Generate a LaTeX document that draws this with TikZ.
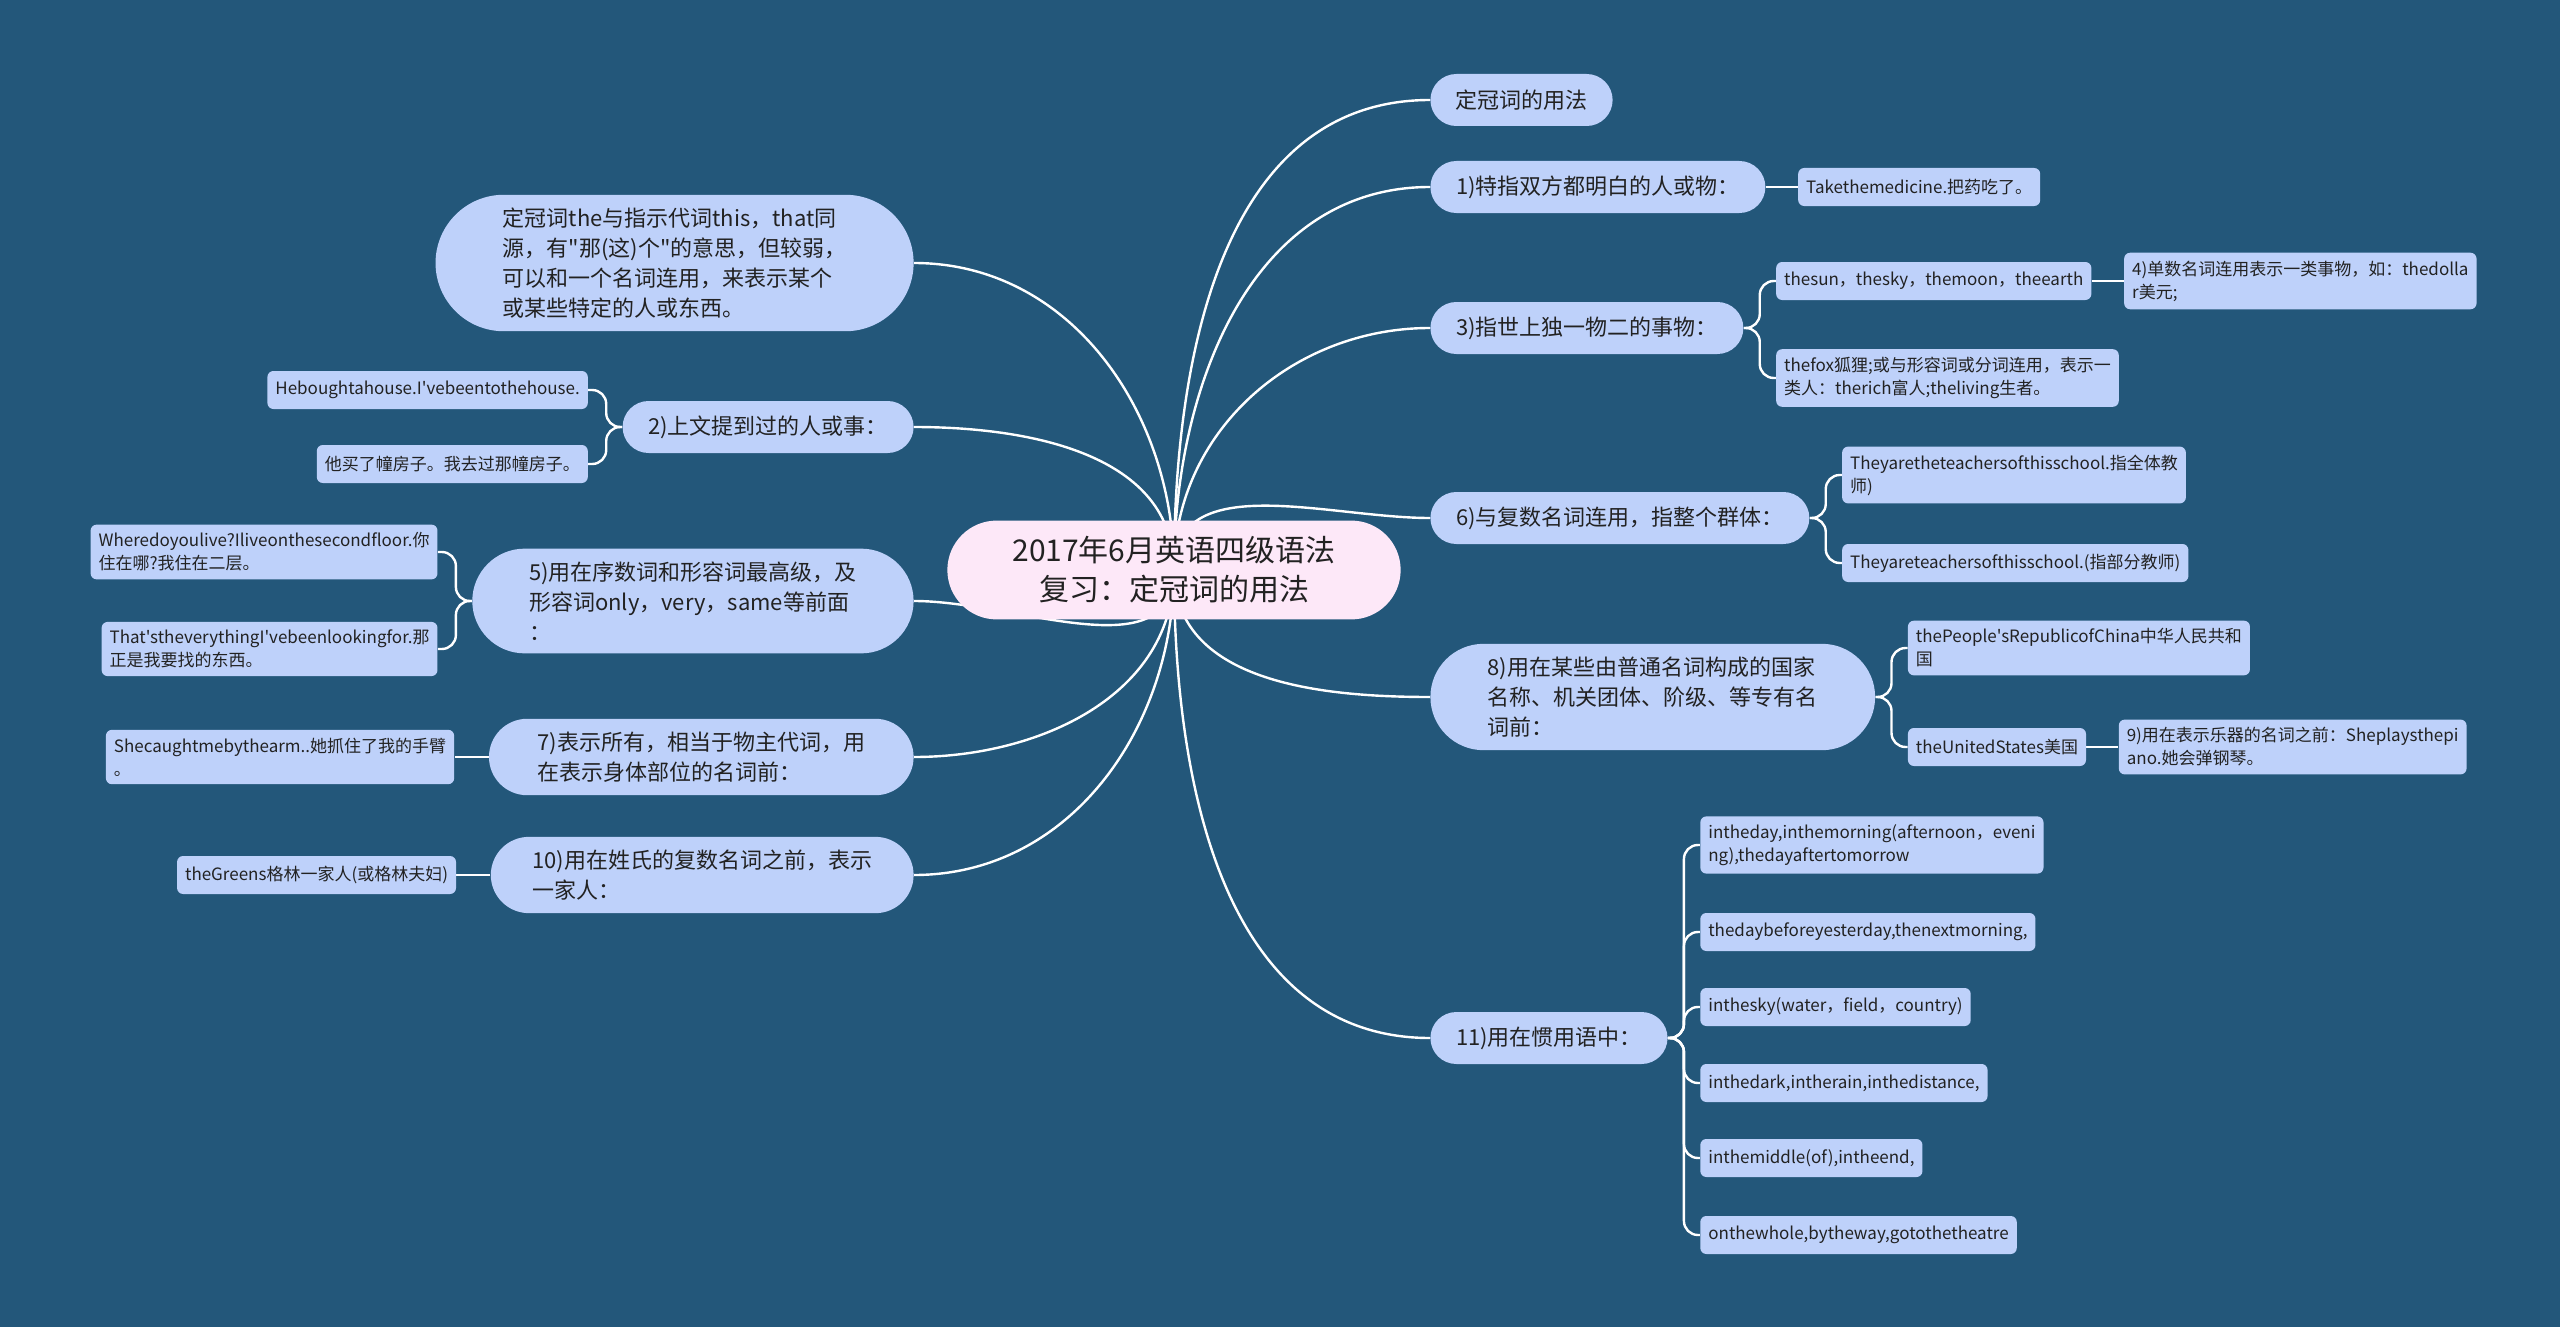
\documentclass[tikz,border=0pt]{standalone}
\usepackage{fontspec}
\setmainfont{Noto Sans CJK SC}[Ligatures=TeXOff]
\usepackage{xcolor}
\usetikzlibrary{positioning, backgrounds, shapes.misc}
\definecolor{mapbg}{HTML}{23577A}
\definecolor{topicfill}{HTML}{BED1FA}
\definecolor{rootfill}{HTML}{FDE8F8}
\definecolor{topictext}{HTML}{222222}

\begin{document}
\begin{tikzpicture}[
      x=0.5pt, y=-0.5pt,
      root/.style={rounded rectangle, fill=rootfill, text=topictext, inner xsep=26pt, inner ysep=8pt, align=center, font=\fontsize{15}{19.5}\selectfont},
      topic/.style={rounded rectangle, fill=topicfill, text=topictext, inner xsep=11.5pt, inner ysep=6.5pt, minimum height=26pt, align=left, font=\fontsize{11}{15}\selectfont},
      bigtopic/.style={topic, inner xsep=19.5pt},
      leaf/.style={rectangle, rounded corners=3pt, fill=topicfill, text=topictext, inner xsep=4pt, inner ysep=4pt, minimum height=19pt, align=left, font=\fontsize{8.5}{11.5}\selectfont},
      link/.style={white, line width=1.2pt},
      brace/.style={white, line width=1.2pt, rounded corners=7pt},
    ]
    \useasboundingbox (0,0) rectangle (2560,1327);

    \node[root] (root) at (1174,570) {2017年6月英语四级语法\\复习：定冠词的用法};

    \node[topic, anchor=west] (t0) at (1430,100) {定冠词的用法};
    \node[topic, anchor=west] (t1) at (1430,187) {1)特指双方都明白的人或物：};
    \node[topic, anchor=west] (t3) at (1430,328) {3)指世上独一物二的事物：};
    \node[topic, anchor=west] (t6) at (1430,518) {6)与复数名词连用，指整个群体：};
    \node[bigtopic, anchor=west] (t8) at (1430,697) {8)用在某些由普通名词构成的国家\\名称、机关团体、阶级、等专有名\\词前：};
    \node[topic, anchor=west] (t11) at (1430,1038) {11)用在惯用语中：};

    \node[bigtopic, anchor=east] (intro) at (914,263) {定冠词the与指示代词this，that同\\源，有"那(这)个"的意思，但较弱，\\可以和一个名词连用，来表示某个\\或某些特定的人或东西。};
    \node[topic, anchor=east] (t2) at (914,427) {2)上文提到过的人或事：};
    \node[bigtopic, anchor=east] (t5) at (914,601) {5)用在序数词和形容词最高级，及\\形容词only，very，same等前面\\：};
    \node[bigtopic, anchor=east] (t7) at (914,757) {7)表示所有，相当于物主代词，用\\在表示身体部位的名词前：};
    \node[bigtopic, anchor=east, inner xsep=16pt] (t10) at (914,875) {10)用在姓氏的复数名词之前，表示\\一家人：};

    \node[leaf, anchor=west, xshift=16pt] (t1a) at (t1.east) {Takethemedicine.把药吃了。};
    \node[leaf, anchor=west, xshift=16pt] (t3a) at (t3.east |- 0,281) {thesun，thesky，themoon，theearth};
    \node[leaf, anchor=west, xshift=16pt] (t4) at (t3a.east) {4)单数名词连用表示一类事物，如：thedolla\\r美元;};
    \node[leaf, anchor=west, xshift=16pt] (t3b) at (t3.east |- 0,378) {thefox狐狸;或与形容词或分词连用，表示一\\类人：therich富人;theliving生者。};
    \node[leaf, anchor=west, xshift=16pt] (t6a) at (t6.east |- 0,475) {Theyaretheteachersofthisschool.指全体教\\师)};
    \node[leaf, anchor=west, xshift=16pt] (t6b) at (t6.east |- 0,563) {Theyareteachersofthisschool.(指部分教师)};
    \node[leaf, anchor=west, xshift=16pt] (t8a) at (t8.east |- 0,648) {thePeople'sRepublicofChina中华人民共和\\国};
    \node[leaf, anchor=west, xshift=16pt] (t8b) at (t8.east |- 0,747) {theUnitedStates美国};
    \node[leaf, anchor=west, xshift=16pt] (t9) at (t8b.east) {9)用在表示乐器的名词之前：Sheplaysthepi\\ano.她会弹钢琴。};
    \node[leaf, anchor=west, xshift=16pt] (t11a) at (t11.east |- 0,845) {intheday,inthemorning(afternoon，eveni\\ng),thedayaftertomorrow};
    \node[leaf, anchor=west, xshift=16pt] (t11b) at (t11.east |- 0,932) {thedaybeforeyesterday,thenextmorning,};
    \node[leaf, anchor=west, xshift=16pt] (t11c) at (t11.east |- 0,1007) {inthesky(water，field，country)};
    \node[leaf, anchor=west, xshift=16pt] (t11d) at (t11.east |- 0,1083) {inthedark,intherain,inthedistance,};
    \node[leaf, anchor=west, xshift=16pt] (t11e) at (t11.east |- 0,1158) {inthemiddle(of),intheend,};
    \node[leaf, anchor=west, xshift=16pt] (t11f) at (t11.east |- 0,1235) {onthewhole,bytheway,gotothetheatre};

    \node[leaf, anchor=east, xshift=-17pt] (t2a) at (t2.west |- 0,390) {Heboughtahouse.I've{}beentothehouse.};
    \node[leaf, anchor=east, xshift=-17pt] (t2b) at (t2.west |- 0,464) {他买了幢房子。我去过那幢房子。};
    \node[leaf, anchor=east, xshift=-17pt] (t5a) at (t5.west |- 0,552) {Wheredoyoulive?Iliveonthesecondfloor.你\\住在哪?我住在二层。};
    \node[leaf, anchor=east, xshift=-17pt] (t5b) at (t5.west |- 0,649) {That'stheverythingI've{}beenlookingfor.那\\正是我要找的东西。};
    \node[leaf, anchor=east, xshift=-17pt] (t7a) at (t7.west) {Shecaughtmebythearm..她抓住了我的手臂\\。};
    \node[leaf, anchor=east, xshift=-17pt] (t10a) at (t10.west) {theGreens格林一家人(或格林夫妇)};

    \begin{scope}[on background layer]
      \fill[mapbg] (0,0) rectangle (2560,1327);
      \draw[link] (root.center) to[out=90, in=180] (t0.west);
      \draw[link] (root.center) to[out=90, in=180] (t1.west);
      \draw[link] (root.center) to[out=90, in=180] (t3.west);
      \draw[link] (root.center) to[out=90, in=180] (t6.west);
      \draw[link] (root.center) to[out=-90, in=180] (t8.west);
      \draw[link] (root.center) to[out=-90, in=180] (t11.west);
      \draw[link] (root.center) to[out=90, in=0] (intro.east);
      \draw[link] (root.center) to[out=90, in=0] (t2.east);
      \draw[link] (root.center) to[out=-90, in=0] (t5.east);
      \draw[link] (root.center) to[out=-90, in=0] (t7.east);
      \draw[link] (root.center) to[out=-90, in=0] (t10.east);

      \draw[link] (t1.east) -- (t1a.west);
      \draw[brace] (t3.east) -- ++(8pt,0) |- (t3a.west);
      \draw[brace] (t3.east) -- ++(8pt,0) |- (t3b.west);
      \draw[link] (t3a.east) -- (t4.west);
      \draw[brace] (t6.east) -- ++(8pt,0) |- (t6a.west);
      \draw[brace] (t6.east) -- ++(8pt,0) |- (t6b.west);
      \draw[brace] (t8.east) -- ++(8pt,0) |- (t8a.west);
      \draw[brace] (t8.east) -- ++(8pt,0) |- (t8b.west);
      \draw[link] (t8b.east) -- (t9.west);
      \draw[brace] (t11.east) -- ++(8pt,0) |- (t11a.west);
      \draw[brace] (t11.east) -- ++(8pt,0) |- (t11b.west);
      \draw[brace] (t11.east) -- ++(8pt,0) |- (t11c.west);
      \draw[brace] (t11.east) -- ++(8pt,0) |- (t11d.west);
      \draw[brace] (t11.east) -- ++(8pt,0) |- (t11e.west);
      \draw[brace] (t11.east) -- ++(8pt,0) |- (t11f.west);

      \draw[brace] (t2.west) -- ++(-8pt,0) |- (t2a.east);
      \draw[brace] (t2.west) -- ++(-8pt,0) |- (t2b.east);
      \draw[brace] (t5.west) -- ++(-8pt,0) |- (t5a.east);
      \draw[brace] (t5.west) -- ++(-8pt,0) |- (t5b.east);
      \draw[link] (t7.west) -- (t7a.east);
      \draw[link] (t10.west) -- (t10a.east);
    \end{scope}
  \end{tikzpicture}
\end{document}
